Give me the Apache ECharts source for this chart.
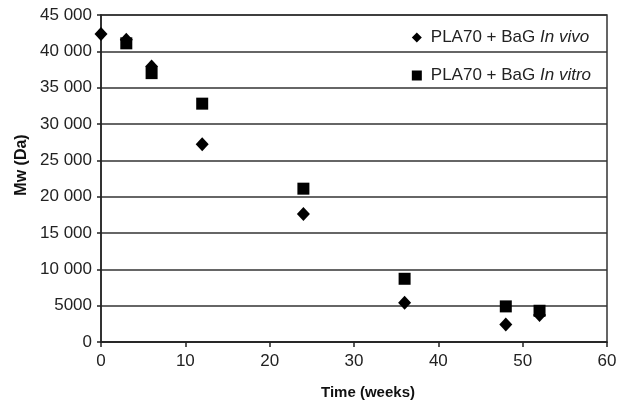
<!DOCTYPE html>
<html><head><meta charset="utf-8">
<script src="https://cdn.jsdelivr.net/npm/echarts@6/dist/echarts.min.js"></script>
<style>html,body{margin:0;padding:0;background:#fff}#c{width:626px;height:405px}</style>
</head><body><div id="c"></div>
<script>
const weeks = [0, 3, 6, 12, 24, 36, 48, 52];
const inVivo = [42400, 41600, 37900, 27200, 17600, 5400, 2400, 3700];
const inVitro = [null, 41100, 37000, 32800, 21100, 8700, 4900, 4300];
const yTicks = [0, 5000, 10000, 15000, 20000, 25000, 30000, 35000, 40000, 45000];
const xTicks = [0, 10, 20, 30, 40, 50, 60];

const fmtY = v => v >= 10000 ? String(v).replace(/(\d+)(\d{3})$/, '$1 $2') : String(v);
const pairs = (ys) => weeks.map((w, i) => ys[i] == null ? null : [w, ys[i]]).filter(p => p);

const chart = echarts.init(document.getElementById('c'));
chart.setOption({
  animation: false,
  backgroundColor: '#fff',
  grid: { left: 101, right: 19, top: 15, bottom: 63 },
  xAxis: {
    type: 'value', min: 0, max: 60, interval: 10,
    axisLine: { show: true, lineStyle: { color: '#222', width: 1.5 } },
    axisTick: { show: true, length: 5, lineStyle: { color: '#222', width: 1.5 } },
    axisLabel: { color: '#222', fontSize: 17, fontFamily: 'Liberation Sans', margin: 11 },
    splitLine: { show: false }
  },
  yAxis: {
    type: 'value', min: 0, max: 45000, interval: 5000,
    axisLine: { show: true, lineStyle: { color: '#222', width: 1.5 } },
    axisTick: { show: true, length: 4, lineStyle: { color: '#222', width: 1.5 } },
    axisLabel: { color: '#222', fontSize: 17, fontFamily: 'Liberation Sans', margin: 9, formatter: fmtY },
    splitLine: { show: true, lineStyle: { color: '#333', width: 1.5 } }
  },
  legend: {
    orient: 'vertical', right: 35, top: 29, itemGap: 21, itemWidth: 10, itemHeight: 10, padding: 0,
    data: [
      { name: 'vivo', icon: 'diamond' },
      { name: 'vitro', icon: 'rect' }
    ],
    formatter: n => n === 'vivo' ? '{a|PLA70 + BaG }{b|In vivo}' : '{a|PLA70 + BaG }{b|In vitro}',
    textStyle: {
      color: '#222', fontSize: 17, fontFamily: 'Liberation Sans', padding: [0, 0, 0, 4],
      rich: {
        a: { fontSize: 17, fontFamily: 'Liberation Sans', color: '#222', lineHeight: 20 },
        b: { fontSize: 17, fontFamily: 'Liberation Sans', color: '#222', fontStyle: 'italic', lineHeight: 20 }
      }
    },
    itemStyle: { opacity: 1, color: '#000' }
  },
  graphic: [
    { type: 'rect', shape: { x: 101, y: 15, width: 506, height: 327 }, style: { fill: 'none', stroke: '#333', lineWidth: 1.5 }, silent: true, z: 0 },
    { type: 'text', x: 368, y: 393, style: { text: 'Time (weeks)', font: 'bold 15px "Liberation Sans"', fill: '#111', textAlign: 'center', textVerticalAlign: 'middle' } },
    { type: 'text', x: 22, y: 165, rotation: Math.PI / 2, style: { text: 'Mw (Da)', font: 'bold 16px "Liberation Sans"', fill: '#111', textAlign: 'center', textVerticalAlign: 'middle' } }
  ],
  series: [
    { name: 'vitro', type: 'scatter', symbol: 'rect', symbolSize: 12, itemStyle: { color: '#000', opacity: 1 }, data: pairs(inVitro), z: 3 },
    { name: 'vivo', type: 'scatter', symbol: 'diamond', symbolSize: [13, 14], itemStyle: { color: '#000', opacity: 1 }, data: pairs(inVivo), z: 4 }
  ]
});
</script></body></html>
